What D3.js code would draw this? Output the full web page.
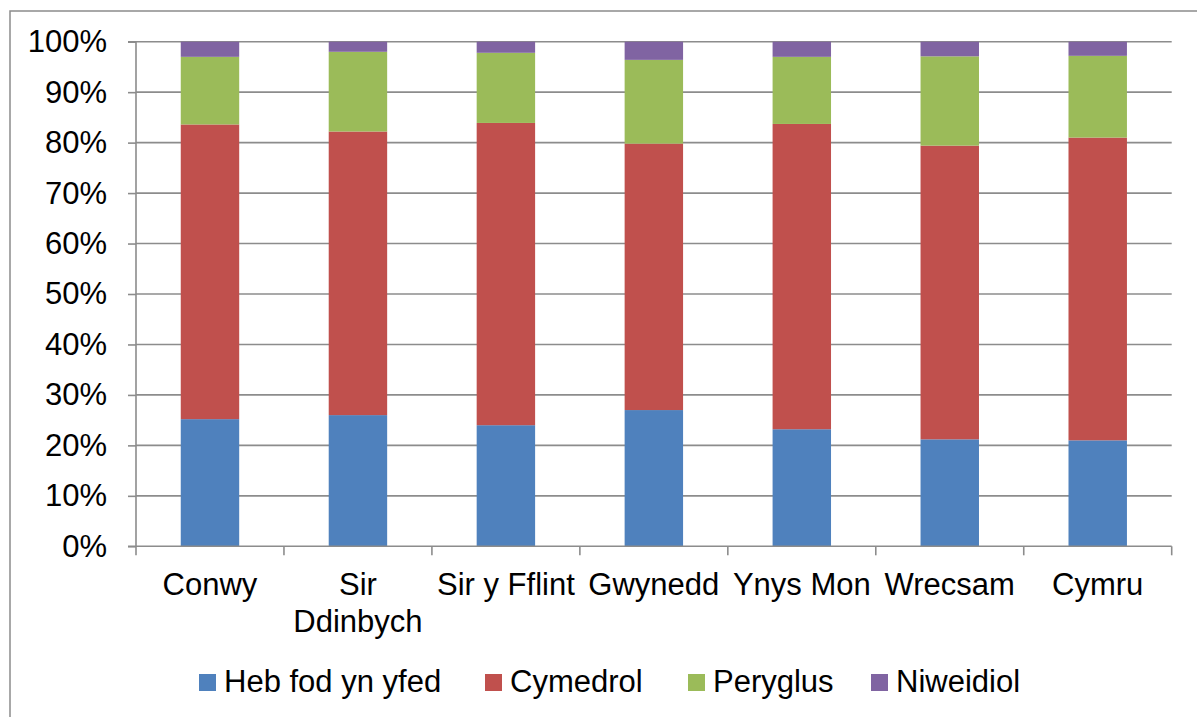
<!DOCTYPE html>
<html>
<head>
<meta charset="utf-8">
<script src="https://cdn.jsdelivr.net/npm/d3@7"></script>
<style>
  html, body { margin: 0; padding: 0; background: #fff; }
  svg { display: block; }
  text { font-family: "Liberation Sans", Arial, sans-serif; fill: #000; }
</style>
</head>
<body>
<svg id="chart" width="1197" height="717"></svg>
<script>
const categories = ["Conwy", "Sir Ddinbych", "Sir y Fflint", "Gwynedd", "Ynys Mon", "Wrecsam", "Cymru"];
const categoryLines = [["Conwy"], ["Sir", "Ddinbych"], ["Sir y Fflint"], ["Gwynedd"], ["Ynys Mon"], ["Wrecsam"], ["Cymru"]];
const seriesNames = ["Heb fod yn yfed", "Cymedrol", "Peryglus", "Niweidiol"];
const hebFod = [25.2, 26.0, 24.0, 27.0, 23.2, 21.2, 21.0];
const cymedrol = [58.4, 56.2, 59.9, 52.8, 60.5, 58.2, 60.0];
const peryglus = [13.4, 15.8, 13.9, 16.6, 13.3, 17.7, 16.2];
const niweidiol = [3.0, 2.0, 2.2, 3.6, 3.0, 2.9, 2.8];
const yTicks = [0, 10, 20, 30, 40, 50, 60, 70, 80, 90, 100];
const colors = ["#4F81BD", "#C0504D", "#9BBB59", "#8064A2"];

(function () {
const seriesValues = [hebFod, cymedrol, peryglus, niweidiol];
const table = categories.map((c, i) => {
  const row = { cat: c };
  seriesNames.forEach((s, j) => row[s] = seriesValues[j][i]);
  return row;
});

const svg = d3.select("#chart");
const pLeft = 136, pRight = 1171.7, pTop = 41.7, pBottom = 546.3;
const fontSize = 31;

// outer border
svg.append("rect").attr("x", 10).attr("y", 11).attr("width", 1220).attr("height", 740)
  .attr("fill", "none").attr("stroke", "#8c8c8c").attr("stroke-width", 1.5);

const x = d3.scaleBand().domain(categories).range([pLeft, pRight]).padding(0);
const y = d3.scaleLinear().domain([0, 100]).range([pBottom, pTop]);

// gridlines
svg.append("g").selectAll("line").data(yTicks.filter(t => t > 0)).join("line")
  .attr("x1", pLeft).attr("x2", pRight)
  .attr("y1", d => y(d)).attr("y2", d => y(d))
  .attr("stroke", "#8c8c8c").attr("stroke-width", 1.6);

// stacked bars
const stacked = d3.stack().keys(seriesNames)(table);
const barW = x.bandwidth() * 0.395;
svg.append("g").selectAll("g").data(stacked).join("g")
  .attr("fill", (d, i) => colors[i])
  .selectAll("rect").data(d => d).join("rect")
  .attr("x", d => x(d.data.cat) + (x.bandwidth() - barW) / 2)
  .attr("width", barW)
  .attr("y", d => y(d[1]))
  .attr("height", d => y(d[0]) - y(d[1]));

// y axis
const yAxis = d3.axisLeft(y).tickValues(yTicks).tickSize(8).tickFormat(d => d + "%").tickPadding(21);
const gy = svg.append("g").attr("transform", `translate(${pLeft},0)`).call(yAxis);
gy.select(".domain").attr("stroke", "#8c8c8c").attr("stroke-width", 1.6).attr("d", `M-8,${pBottom}H0V${pTop}H-8`);
gy.selectAll(".tick line").attr("stroke", "#8c8c8c").attr("stroke-width", 1.6);
gy.selectAll(".tick text").attr("font-size", fontSize).attr("font-family", "Liberation Sans, Arial, sans-serif").attr("fill", "#000");

// x axis
const gx = svg.append("g").attr("transform", `translate(0,${pBottom})`);
gx.append("line").attr("x1", pLeft).attr("x2", pRight).attr("y1", 0).attr("y2", 0)
  .attr("stroke", "#8c8c8c").attr("stroke-width", 1.6);
const boundaries = categories.map(c => x(c)).concat([pRight]);
gx.selectAll("line.tk").data(boundaries).join("line").attr("class", "tk")
  .attr("x1", d => d).attr("x2", d => d).attr("y1", 0).attr("y2", 9)
  .attr("stroke", "#8c8c8c").attr("stroke-width", 1.6);
gx.selectAll("text.cat").data(categories).join("text").attr("class", "cat")
  .attr("text-anchor", "middle").attr("font-size", fontSize)
  .attr("x", d => x(d) + x.bandwidth() / 2)
  .attr("y", 49)
  .each(function (d, i) {
    const t = d3.select(this);
    categoryLines[i].forEach((ln, k) => {
      t.append("tspan").attr("x", x(d) + x.bandwidth() / 2).attr("dy", k === 0 ? 0 : 36.5).text(ln);
    });
  });

// legend
const legendX = [199, 485, 688, 871];
const lg = svg.append("g");
seriesNames.forEach((s, i) => {
  lg.append("rect").attr("x", legendX[i]).attr("y", 674).attr("width", 17).attr("height", 17).attr("fill", colors[i]);
  lg.append("text").attr("x", legendX[i] + 25).attr("y", 692).attr("font-size", fontSize).text(s);
});
})();
</script>
</body>
</html>
